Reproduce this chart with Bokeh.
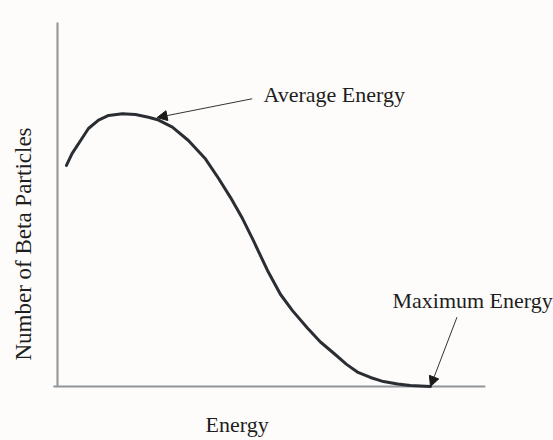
import numpy as np
from bokeh.plotting import figure
from bokeh.models import Label, Arrow, NormalHead, Range1d
from bokeh.embed import file_html
from bokeh.resources import INLINE

# Energy (fraction of maximum energy) and relative number of beta particles
energy = [0.024, 0.039, 0.062, 0.083, 0.110, 0.137, 0.174, 0.209, 0.244, 0.271,
          0.308, 0.351, 0.397, 0.432, 0.464, 0.496, 0.525, 0.563, 0.598, 0.630,
          0.670, 0.705, 0.743, 0.775, 0.804, 0.839, 0.874, 0.912, 0.946, 1.000]
counts = [0.810, 0.853, 0.901, 0.945, 0.976, 0.993, 0.999, 0.996, 0.986, 0.976,
          0.950, 0.901, 0.833, 0.762, 0.692, 0.615, 0.535, 0.425, 0.337, 0.278,
          0.214, 0.163, 0.119, 0.081, 0.053, 0.033, 0.018, 0.009, 0.004, 0.000]

avg_energy = 0.267      # arrow tip for "Average Energy"
avg_count = 0.985
max_energy = 1.0        # arrow tip for "Maximum Energy"
max_count = 0.0

axis_x_end = 1.147      # extent of the drawn axes
axis_y_end = 1.333

x_label = "Energy"
y_label = "Number of Beta Particles"
avg_text = "Average Energy"
max_text = "Maximum Energy"

BG = "#fdfcfa"
FONT = "Liberation Serif"
TXT = "#1e1e1e"

p = figure(width=553, height=440, output_backend="svg", toolbar_location=None,
           x_range=Range1d(-0.1528, 1.3298), y_range=Range1d(-0.1978, 1.4139),
           x_axis_location=None, y_axis_location=None,
           min_border=0, min_border_left=0, min_border_right=0,
           min_border_top=0, min_border_bottom=0)
p.background_fill_color = BG
p.border_fill_color = BG
p.outline_line_color = None
p.grid.visible = False

# axes drawn as lines through the data scales
p.segment(x0=[-0.011], y0=[0], x1=[axis_x_end], y1=[0],
          line_color="#8f959b", line_width=2.2)
p.segment(x0=[0], y0=[0], x1=[0], y1=[axis_y_end],
          line_color="#9a9a9a", line_width=2.2)

p.line(energy, counts, line_color="#2a2e33", line_width=3,
       line_join="round", line_cap="round")

# arrows
p.add_layout(Arrow(end=NormalHead(size=10, fill_color="#1a1a1a", line_color="#1a1a1a"),
                   x_start=0.522, y_start=1.054, x_end=avg_energy, y_end=avg_count,
                   line_color="#333333", line_width=1))
p.add_layout(Arrow(end=NormalHead(size=10, fill_color="#1a1a1a", line_color="#1a1a1a"),
                   x_start=1.071, y_start=0.254, x_end=max_energy, y_end=max_count,
                   line_color="#333333", line_width=1))

common = dict(text_font=FONT, text_font_size="22px", text_color=TXT)
p.add_layout(Label(x=0.552, y=1.069, text=avg_text, text_align="left",
                   text_baseline="alphabetic", **common))
p.add_layout(Label(x=0.898, y=0.315, text=max_text, text_align="left",
                   text_baseline="alphabetic", **common))
p.add_layout(Label(x=0.397, y=-0.139, text=x_label, text_align="left",
                   text_baseline="alphabetic", **common))
p.add_layout(Label(x=-0.091, y=0.095, text=y_label, text_align="left",
                   text_baseline="alphabetic", angle=np.pi / 2,
                   text_font=FONT, text_font_size="23px", text_color=TXT))

open("out.html", "w").write(file_html(p, INLINE))
